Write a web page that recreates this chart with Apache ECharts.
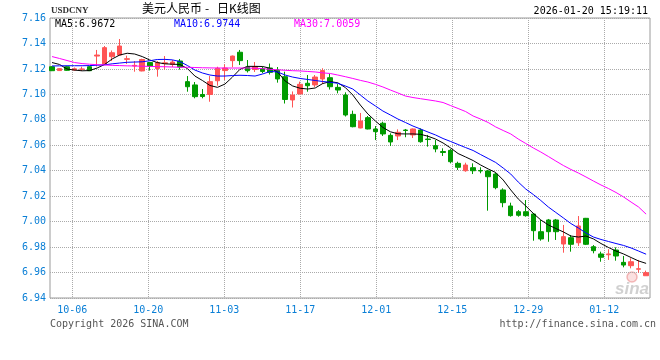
<!DOCTYPE html>
<html><head><meta charset="utf-8">
<script src="https://cdn.jsdelivr.net/npm/echarts@6/dist/echarts.min.js"></script>
<style>html,body{margin:0;padding:0;background:#fff}#c{width:660px;height:360px}</style>
</head><body><div id="c"></div>
<script>
// ---- data (80 trading days, oldest first) ----
const openP = [7.1217,7.1187,7.1217,7.1191,7.1197,7.1217,7.1301,7.1239,7.1296,7.1309,
7.1275,7.1223,7.1184,7.1250,7.1203,7.1242,7.1235,7.1262,7.1100,7.1074,
7.0999,7.0999,7.1107,7.1187,7.1265,7.1331,7.1213,7.1195,7.1203,7.1207,
7.1191,7.1139,7.0956,7.1003,7.1087,7.1074,7.1121,7.1131,7.1055,7.0995,
7.0843,7.0736,7.0817,7.0728,7.0773,7.0678,7.0673,7.0720,7.0681,7.0720,
7.0649,7.0597,7.0551,7.0560,7.0458,7.0400,7.0424,7.0402,7.0398,7.0374,
7.0249,7.0123,7.0078,7.0078,7.0060,6.9921,7.0013,7.0013,6.9824,6.9874,
6.9834,7.0026,6.9803,6.9746,6.9740,6.9777,6.9680,6.9654,6.9626,6.9575];
const closeP = [7.1186,7.1202,7.1189,7.1201,7.1199,7.1186,7.1309,7.1367,7.1327,7.1380,
7.1280,7.1228,7.1274,7.1223,7.1249,7.1248,7.1254,7.1215,7.1060,7.0982,
7.0983,7.1100,7.1205,7.1207,7.1301,7.1265,7.1186,7.1219,7.1180,7.1173,
7.1121,7.0960,7.0995,7.1079,7.1068,7.1136,7.1187,7.1060,7.1034,7.0838,
7.0746,7.0791,7.0728,7.0707,7.0689,7.0626,7.0702,7.0716,7.0728,7.0628,
7.0645,7.0571,7.0543,7.0471,7.0427,7.0445,7.0400,7.0398,7.0353,7.0267,
7.0149,7.0047,7.0050,7.0047,6.9929,6.9864,6.9921,6.9921,6.9882,6.9822,
6.9966,6.9822,6.9772,6.9720,6.9746,6.9730,6.9659,6.9685,6.9630,6.9599];
const lowP = [7.1183,7.1185,7.1185,7.1184,7.1184,7.1183,7.1219,7.1235,7.1262,7.1305,
7.1239,7.1178,7.1181,7.1187,7.1139,7.1195,7.1215,7.1195,7.1021,7.0969,
7.0969,7.0942,7.1068,7.1113,7.1213,7.1231,7.1172,7.1176,7.1166,7.1156,
7.1092,7.0928,7.0897,7.1000,7.1021,7.1058,7.1081,7.1038,7.1008,7.0826,
7.0741,7.0733,7.0725,7.0641,7.0673,7.0594,7.0641,7.0663,7.0657,7.0620,
7.0589,7.0545,7.0516,7.0458,7.0406,7.0392,7.0374,7.0380,7.0086,7.0254,
7.0113,7.0039,7.0039,7.0039,6.9850,6.9850,6.9842,6.9856,6.9756,6.9764,
6.9809,6.9816,6.9751,6.9685,6.9699,6.9693,6.9641,6.9633,6.9599,6.9575];
const highP = [7.1222,7.1205,7.1222,7.1211,7.1217,7.1222,7.1349,7.1380,7.1345,7.1435,
7.1304,7.1262,7.1280,7.1254,7.1262,7.1301,7.1270,7.1278,7.1144,7.1097,
7.1042,7.1144,7.1217,7.1236,7.1305,7.1349,7.1270,7.1254,7.1219,7.1242,
7.1215,7.1178,7.1023,7.1100,7.1152,7.1152,7.1205,7.1160,7.1081,7.1016,
7.0872,7.0854,7.0830,7.0751,7.0785,7.0694,7.0725,7.0728,7.0732,7.0733,
7.0681,7.0641,7.0576,7.0571,7.0471,7.0463,7.0458,7.0427,7.0406,7.0385,
7.0262,7.0149,7.0091,7.0170,7.0068,7.0013,7.0021,7.0021,6.9974,6.9895,
7.0044,7.0029,6.9816,6.9764,6.9783,6.9798,6.9730,6.9712,6.9699,6.9615];
const ma5 = [7.1250,7.1235,7.1199,7.1191,7.1185,7.1187,7.1207,7.1235,7.1278,7.1309,
7.1323,7.1317,7.1297,7.1270,7.1250,7.1240,7.1237,7.1235,7.1203,7.1144,
7.1109,7.1070,7.1055,7.1081,7.1136,7.1197,7.1220,7.1220,7.1219,7.1205,
7.1176,7.1105,7.1066,7.1048,7.1042,7.1050,7.1085,7.1100,7.1091,7.1054,
7.0995,7.0916,7.0846,7.0791,7.0740,7.0706,7.0690,7.0689,7.0689,7.0686,
7.0671,7.0649,7.0618,7.0579,7.0535,7.0508,7.0480,7.0445,7.0414,7.0386,
7.0327,7.0249,7.0178,7.0123,7.0065,7.0013,6.9974,6.9946,6.9919,6.9887,
6.9879,6.9887,6.9864,6.9828,6.9797,6.9769,6.9746,6.9718,6.9691,6.9672];
const ma10 = [7.1223,7.1224,7.1225,7.1225,7.1225,7.1226,7.1229,7.1232,7.1240,7.1246,
7.1252,7.1254,7.1256,7.1264,7.1274,7.1275,7.1271,7.1258,7.1227,7.1191,
7.1168,7.1152,7.1144,7.1144,7.1148,7.1150,7.1148,7.1144,7.1160,7.1180,
7.1176,7.1152,7.1136,7.1125,7.1117,7.1109,7.1101,7.1095,7.1087,7.1066,
7.1042,7.0995,7.0948,7.0909,7.0869,7.0838,7.0806,7.0779,7.0751,7.0728,
7.0704,7.0681,7.0653,7.0630,7.0606,7.0582,7.0559,7.0527,7.0496,7.0465,
7.0421,7.0374,7.0311,7.0256,7.0213,7.0166,7.0115,7.0072,7.0029,6.9985,
6.9950,6.9911,6.9879,6.9860,6.9844,6.9828,6.9813,6.9793,6.9769,6.9744];
const ma30 = [7.1297,7.1282,7.1266,7.1250,7.1242,7.1237,7.1233,7.1231,7.1228,7.1226,
7.1224,7.1223,7.1221,7.1220,7.1218,7.1217,7.1215,7.1213,7.1213,7.1211,
7.1209,7.1208,7.1207,7.1207,7.1207,7.1207,7.1207,7.1205,7.1202,7.1197,
7.1193,7.1189,7.1186,7.1184,7.1180,7.1176,7.1169,7.1164,7.1152,7.1139,
7.1125,7.1110,7.1097,7.1079,7.1058,7.1034,7.1011,7.0987,7.0975,7.0966,
7.0957,7.0948,7.0936,7.0912,7.0889,7.0865,7.0830,7.0806,7.0779,7.0744,
7.0716,7.0689,7.0649,7.0614,7.0579,7.0547,7.0512,7.0476,7.0441,7.0410,
7.0382,7.0351,7.0319,7.0288,7.0260,7.0229,7.0194,7.0154,7.0115,7.0059];
const tickDates = ['2025-10-06','2025-10-20','2025-11-03','2025-11-17','2025-12-01','2025-12-15','2025-12-29','2026-01-12'];
const yMin = 6.94, yMax = 7.16, yStep = 0.02;
const seriesNames = ['MA5','MA10','MA30'];

// ---- layout constants ----
const DAY = 86400000;
function dayNum(s){const p=s.split('-').map(Number);return Date.UTC(p[0],p[1]-1,p[2])/DAY;}
const plotW = 600, dayPx = 76/14;
const dMin = dayNum(tickDates[0]) - 22.3/dayPx;
const dMax = dMin + plotW/dayPx;
const slot = 7.52;
const idxMin = -2/slot, idxMax = (openP.length-1) + 3.9/slot;

const candleData = openP.map((o,i)=>[i,o,closeP[i],lowP[i],highP[i]]);
const toXY = arr => arr.map((v,i)=>[i,v]);
const tickVals = tickDates.map(dayNum);
const mono = '"DejaVu Sans Mono", monospace';
const blue = '#0a7fd6';
const red = '#ff5555', green = '#009a00';
function fmtDay(v){const d=new Date(Math.round(v)*DAY);const m=d.getUTCMonth()+1,dd=d.getUTCDate();return (m<10?'0':'')+m+'-'+(dd<10?'0':'')+dd;}

const chart = echarts.init(document.getElementById('c'), null, {renderer:'canvas'});
const last = a => a[a.length-1].toFixed(4);
chart.setOption({
  animation:false,
  backgroundColor:'#fff',
  grid:{left:50,right:10,top:18,bottom:62,show:true,borderColor:'#9a9a9a',borderWidth:1,outerBoundsMode:'none'},
  xAxis:[
    {type:'value',min:idxMin,max:idxMax,show:false},
    {type:'value',min:dMin,max:dMax,position:'bottom',
     axisLine:{show:false},
     axisTick:{show:false,customValues:tickVals},
     axisLabel:{customValues:tickVals,color:blue,fontFamily:mono,fontSize:10,margin:7,hideOverlap:false,formatter:fmtDay},
     splitLine:{show:true,lineStyle:{color:'#aaaaaa',type:'dotted',width:1}}}
  ],
  yAxis:{type:'value',min:yMin,max:yMax,interval:yStep,
    axisLine:{show:false},axisTick:{show:false},
    axisLabel:{color:blue,fontFamily:mono,fontSize:10,margin:4,formatter:v=>v.toFixed(2)},
    splitLine:{show:true,lineStyle:{color:'#aaaaaa',type:'dotted',width:1}}},
  series:[
    {type:'candlestick',xAxisIndex:0,data:candleData,encode:{x:0,y:[1,2,3,4]},barWidth:5,
     itemStyle:{color:red,color0:green,borderColor:red,borderColor0:green,borderWidth:1},z:2},
    {name:seriesNames[0],type:'line',xAxisIndex:0,data:toXY(ma5),symbol:'none',lineStyle:{color:'#000',width:1},z:3},
    {name:seriesNames[1],type:'line',xAxisIndex:0,data:toXY(ma10),symbol:'none',lineStyle:{color:'#0000ff',width:1},z:3},
    {name:seriesNames[2],type:'line',xAxisIndex:0,data:toXY(ma30),symbol:'none',lineStyle:{color:'#ff00ff',width:1},z:3}
  ],
  graphic:[
    {type:'text',left:51,top:6,style:{text:'USDCNY',font:'bold 9px "Liberation Serif", serif',fill:'#333'}},
    {type:'text',left:142,top:2,style:{text:'美元人民币',font:'12px "Noto Sans CJK SC"',fill:'#000'}},
    {type:'text',left:205,top:2,style:{text:'-',font:'12px "Noto Sans CJK SC"',fill:'#000'}},
    {type:'text',left:217,top:2,style:{text:'日K线图',font:'12px "Noto Sans CJK SC"',fill:'#000'}},
    {type:'text',right:12,top:6,style:{text:'2026-01-20 15:19:11',font:'10px '+mono,fill:'#000'}},
    {type:'text',left:55,top:19,style:{text:seriesNames[0]+':'+last(ma5),font:'10px '+mono,fill:'#000'}},
    {type:'text',left:174,top:19,style:{text:seriesNames[1]+':'+last(ma10),font:'10px '+mono,fill:'#0000ff'}},
    {type:'text',left:294,top:19,style:{text:seriesNames[2]+':'+last(ma30),font:'10px '+mono,fill:'#ff00ff'}},
    {type:'text',left:50,top:319,style:{text:'Copyright 2026 SINA.COM',font:'10px '+mono,fill:'#555'}},
    {type:'text',right:4,top:319,style:{text:'http://finance.sina.com.cn',font:'10px '+mono,fill:'#555'}},
    {type:'circle',shape:{cx:632,cy:277,r:5},style:{fill:'rgba(240,130,130,0.25)',stroke:'rgba(230,110,110,0.45)',lineWidth:1.5},z:-1},
    {type:'text',left:615,top:281,style:{text:'sina',font:'italic bold 17px "Liberation Sans", sans-serif',fill:'rgba(150,150,150,0.45)'},z:-1}
  ]
});
</script>
</body></html>
